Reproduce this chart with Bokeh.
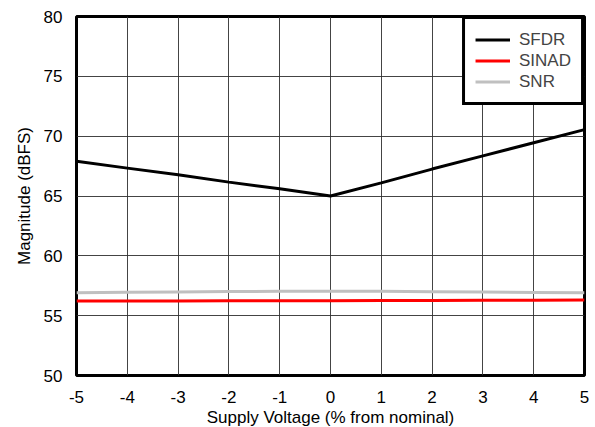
from bokeh.plotting import figure
from bokeh.models import Range1d, FixedTicker, Legend, LegendItem
from bokeh.embed import file_html
from bokeh.resources import INLINE

supply = [-5, -4, -3, -2, -1, 0, 1, 2, 3, 4, 5]
sfdr = [67.9, 67.33, 66.77, 66.16, 65.6, 65.0, 66.1, 67.25, 68.35, 69.45, 70.55]
sinad = [56.22, 56.22, 56.23, 56.24, 56.25, 56.25, 56.26, 56.27, 56.28, 56.29, 56.3]
snr = [56.92, 56.95, 56.98, 57.01, 57.03, 57.05, 57.03, 57.0, 56.97, 56.94, 56.92]
x_ticks = [-5, -4, -3, -2, -1, 0, 1, 2, 3, 4, 5]
y_ticks = [50, 55, 60, 65, 70, 75, 80]

FONT = "Liberation Sans"

p = figure(output_backend="svg", toolbar_location=None,
           frame_width=508, frame_height=359,
           min_border_left=76, min_border_top=16, min_border_right=11, min_border_bottom=52,
           x_range=Range1d(-5, 5), y_range=Range1d(50, 80))
p.background_fill_color = "white"
p.border_fill_color = "white"
p.outline_line_color = "black"
p.outline_line_width = 3

for ax in (p.xaxis[0], p.yaxis[0]):
    ax.axis_line_color = None
    ax.major_tick_line_color = None
    ax.minor_tick_line_color = None
    ax.major_label_text_font = FONT
    ax.major_label_text_font_size = "17px"
    ax.major_label_text_color = "black"
    ax.axis_label_text_font = FONT
    ax.axis_label_text_font_size = "17px"
    ax.axis_label_text_font_style = "normal"
    ax.axis_label_text_color = "black"

p.xaxis.ticker = FixedTicker(ticks=x_ticks)
p.yaxis.ticker = FixedTicker(ticks=y_ticks)
p.xaxis.major_label_overrides = {t: str(t) for t in x_ticks}
p.xaxis.axis_label = "Supply Voltage (% from nominal)"
p.yaxis.axis_label = "Magnitude (dBFS)"
p.xaxis.major_label_standoff = 9
p.yaxis.major_label_standoff = 8
p.xaxis.axis_label_standoff = 2
p.yaxis.axis_label_standoff = 7

p.xgrid.ticker = FixedTicker(ticks=x_ticks)
p.ygrid.ticker = FixedTicker(ticks=y_ticks)
for g in (p.xgrid[0], p.ygrid[0]):
    g.grid_line_color = "#303030"
    g.grid_line_width = 1
    g.grid_line_alpha = 0.9

r_snr = p.line(supply, snr, line_color="#c0c0c0", line_width=3)
r_sinad = p.line(supply, sinad, line_color="#ff0000", line_width=3)
r_sfdr = p.line(supply, sfdr, line_color="black", line_width=3)

legend = Legend(items=[
    LegendItem(label="SFDR", renderers=[r_sfdr]),
    LegendItem(label="SINAD", renderers=[r_sinad]),
    LegendItem(label="SNR", renderers=[r_snr]),
], location="top_right")
legend.margin = 0
legend.padding = 10
legend.spacing = 0
legend.label_text_font = FONT
legend.label_text_font_size = "17px"
legend.label_height = 21
legend.glyph_height = 21
legend.glyph_width = 35
legend.label_standoff = 9
legend.border_line_color = "black"
legend.border_line_width = 3
legend.border_line_alpha = 1
legend.background_fill_alpha = 1
p.add_layout(legend)

open("out.html", "w").write(file_html(p, INLINE))
